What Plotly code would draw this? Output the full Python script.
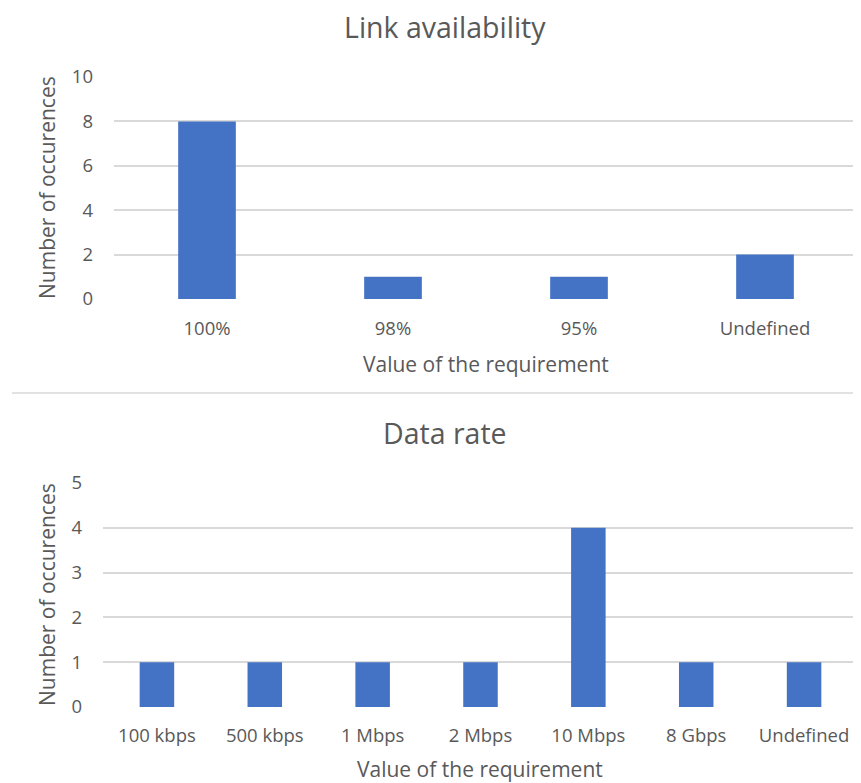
import plotly.graph_objects as go

link_categories = ["100%", "98%", "95%", "Undefined"]
link_counts = [8, 1, 1, 2]
rate_categories = ["100 kbps", "500 kbps", "1 Mbps", "2 Mbps", "10 Mbps", "8 Gbps", "Undefined"]
rate_counts = [1, 1, 1, 1, 4, 1, 1]
link_yticks = [0, 2, 4, 6, 8, 10]
rate_yticks = [0, 1, 2, 3, 4, 5]

O = 8  # page body margin
W, H = 861 - O, 783 - O
BAR = "#4472C4"
TXT = "#595959"
GRID = "#D9D9D9"
FONT = "Open Sans"

def py(p):
    return 1 - (p - O) / H

def px(p):
    return (p - O) / W

fig = go.Figure()
fig.add_trace(go.Bar(x=link_categories, y=link_counts, marker=dict(color=BAR, line=dict(width=0)),
                     width=0.31, xaxis="x", yaxis="y", showlegend=False))
fig.add_trace(go.Bar(x=rate_categories, y=rate_counts, marker=dict(color=BAR, line=dict(width=0)),
                     width=0.32, xaxis="x2", yaxis="y2", showlegend=False))

axis_font = dict(family=FONT, size=18.5, color=TXT)
fig.update_layout(
    width=W, height=H, margin=dict(l=0, r=0, t=0, b=0, autoexpand=False),
    paper_bgcolor="white", plot_bgcolor="white",
    font=dict(family=FONT, color=TXT),
    xaxis=dict(domain=[px(114), px(858)], anchor="y", showgrid=False, zeroline=False, automargin=False,
               showline=False, ticks="", tickfont=axis_font, ticklabelstandoff=16),
    yaxis=dict(domain=[py(299), py(77)], anchor="x", range=[0, 10], tickvals=link_yticks, automargin=False,
               showgrid=True, gridcolor=GRID, gridwidth=1.5, zeroline=False, showline=False,
               ticks="", tickfont=axis_font, ticklabelstandoff=20),
    xaxis2=dict(domain=[px(103), px(858)], anchor="y2", showgrid=False, zeroline=False, automargin=False,
                showline=False, ticks="", tickfont=axis_font, ticklabelstandoff=15),
    yaxis2=dict(domain=[py(707), py(483)], anchor="x2", range=[0, 5], tickvals=rate_yticks, automargin=False,
                showgrid=True, gridcolor=GRID, gridwidth=1.5, zeroline=False, showline=False,
                ticks="", tickfont=axis_font, ticklabelstandoff=20),
)

def ann(text, x, y, size, angle=0):
    fig.add_annotation(text=text, x=px(x), y=py(y), xref="paper", yref="paper",
                       showarrow=False, textangle=angle, xanchor="center", yanchor="middle",
                       borderpad=0, font=dict(family=FONT, size=size, color=TXT))

ann("Link availability", 445, 27, 28.5)
ann("Value of the requirement", 486, 364, 21)
ann("Number of occurences", 47, 188, 21, -90)
ann("Data rate", 445, 433, 28.5)
ann("Value of the requirement", 480, 769, 21)
ann("Number of occurences", 47, 595, 21, -90)

fig.add_shape(type="line", xref="paper", yref="paper", x0=px(12), x1=px(858), y0=py(393), y1=py(393),
              line=dict(color=GRID, width=1.5))

fig.write_html("out.html")
